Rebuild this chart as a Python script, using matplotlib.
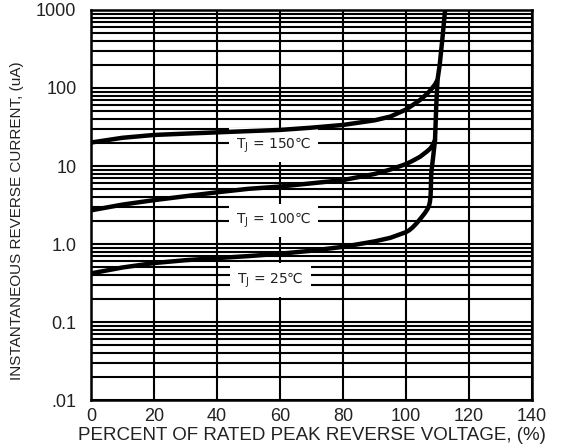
import matplotlib
matplotlib.use("Agg")
import matplotlib.pyplot as plt
from matplotlib.ticker import FixedLocator, LogLocator, NullFormatter

plt.rcParams['font.family'] = ['Liberation Sans', 'DejaVu Sans']
plt.rcParams['mathtext.fontset'] = 'dejavusans'

# Reverse leakage current vs. percent of rated peak reverse voltage
x_25 = [0, 10, 20, 30, 40, 50, 60, 70, 80, 90, 95, 100, 101, 102, 103, 104, 105,
        106, 106.8, 107.3, 107.6, 107.8, 107.9, 108.0, 108.6, 109.2, 109.6,
        110.0, 110.7, 111.5, 112.4]
i_25 = [0.42, 0.50, 0.57, 0.62, 0.66, 0.70, 0.75, 0.82, 0.92, 1.08, 1.2, 1.42,
        1.5, 1.62, 1.78, 1.98, 2.22, 2.5, 2.8, 3.1, 3.5, 4.2, 5.5, 8.1, 13,
        21.5, 60, 127, 200, 413, 1000]

x_100 = [0, 10, 20, 30, 40, 50, 60, 70, 80, 90, 95, 100, 102, 104.4, 106.5,
         107.6, 108.4, 109.2]
i_100 = [2.7, 3.2, 3.65, 4.1, 4.6, 5.1, 5.45, 6.0, 6.6, 7.9, 9.0, 10.6,
         11.6, 13.1, 15.2, 16.6, 18.3, 21.5]

x_150 = [0, 10, 20, 30, 40, 50, 60, 70, 80, 90, 95, 100, 102, 104.4, 106.5,
         107.6, 108.4, 109.2, 109.9]
i_150 = [20, 23, 25, 26, 27, 28, 29, 31, 33.6, 38.5, 43, 53,
         60, 70, 83, 92, 101, 111, 125]

labels = ["T$_\\mathregular{J}$ = 150\u2103", "T$_\\mathregular{J}$ = 100\u2103",
          "T$_\\mathregular{J}$ = 25\u2103"]
label_x = [58, 58, 57]
label_y = [18.6, 1.99, 0.345]

x_ticks = [0, 20, 40, 60, 80, 100, 120, 140]
y_ticks = [0.01, 0.1, 1, 10, 100, 1000]
y_tick_labels = [".01", "0.1", "1.0", "10", "100", "1000"]

fig = plt.figure(figsize=(5.66, 4.46), dpi=100)
ax = fig.add_axes([0.1608, 0.1031, 0.7792, 0.8745])
ax.set_yscale('log')
ax.set_xlim(0, 140)
ax.set_ylim(0.01, 1000)

ax.xaxis.set_major_locator(FixedLocator(x_ticks))
ax.set_xticklabels([str(v) for v in x_ticks])
ax.yaxis.set_major_locator(FixedLocator(y_ticks))
ax.set_yticklabels(y_tick_labels)
ax.yaxis.set_minor_locator(LogLocator(base=10, subs=range(2, 10), numticks=20))
ax.yaxis.set_minor_formatter(NullFormatter())

ax.grid(True, which='both', axis='y', color='black', lw=1.5, zorder=1)
ax.grid(True, which='major', axis='x', color='black', lw=1.5, zorder=1)
ax.tick_params(which='both', length=0, labelsize=13, labelcolor='#222222')
ax.tick_params(axis='y', pad=10.5)
ax.tick_params(axis='x', pad=6)
for s in ax.spines.values():
    s.set_linewidth(1.8)

for xs, ys in ((x_25, i_25), (x_100, i_100), (x_150, i_150)):
    ax.plot(xs, ys, color='black', lw=3.2, solid_capstyle='round',
            solid_joinstyle='round', zorder=4)

for t, lx, ly in zip(labels, label_x, label_y):
    ax.text(lx, ly, t, ha='center', va='center', fontsize=10,
            family='DejaVu Sans', color='#222222', zorder=3,
            bbox=dict(facecolor='white', edgecolor='none', pad=5))

ax.set_xlabel("PERCENT OF RATED PEAK REVERSE VOLTAGE, (%)", fontsize=13.5,
              labelpad=1, color='#222222')
fig.text(17 / 566, 1 - 221 / 446, "INSTANTANEOUS REVERSE CURRENT, (uA)",
         rotation=90, ha='center', va='center', fontsize=11, color='#222222')

fig.savefig("out.png", dpi=100)
